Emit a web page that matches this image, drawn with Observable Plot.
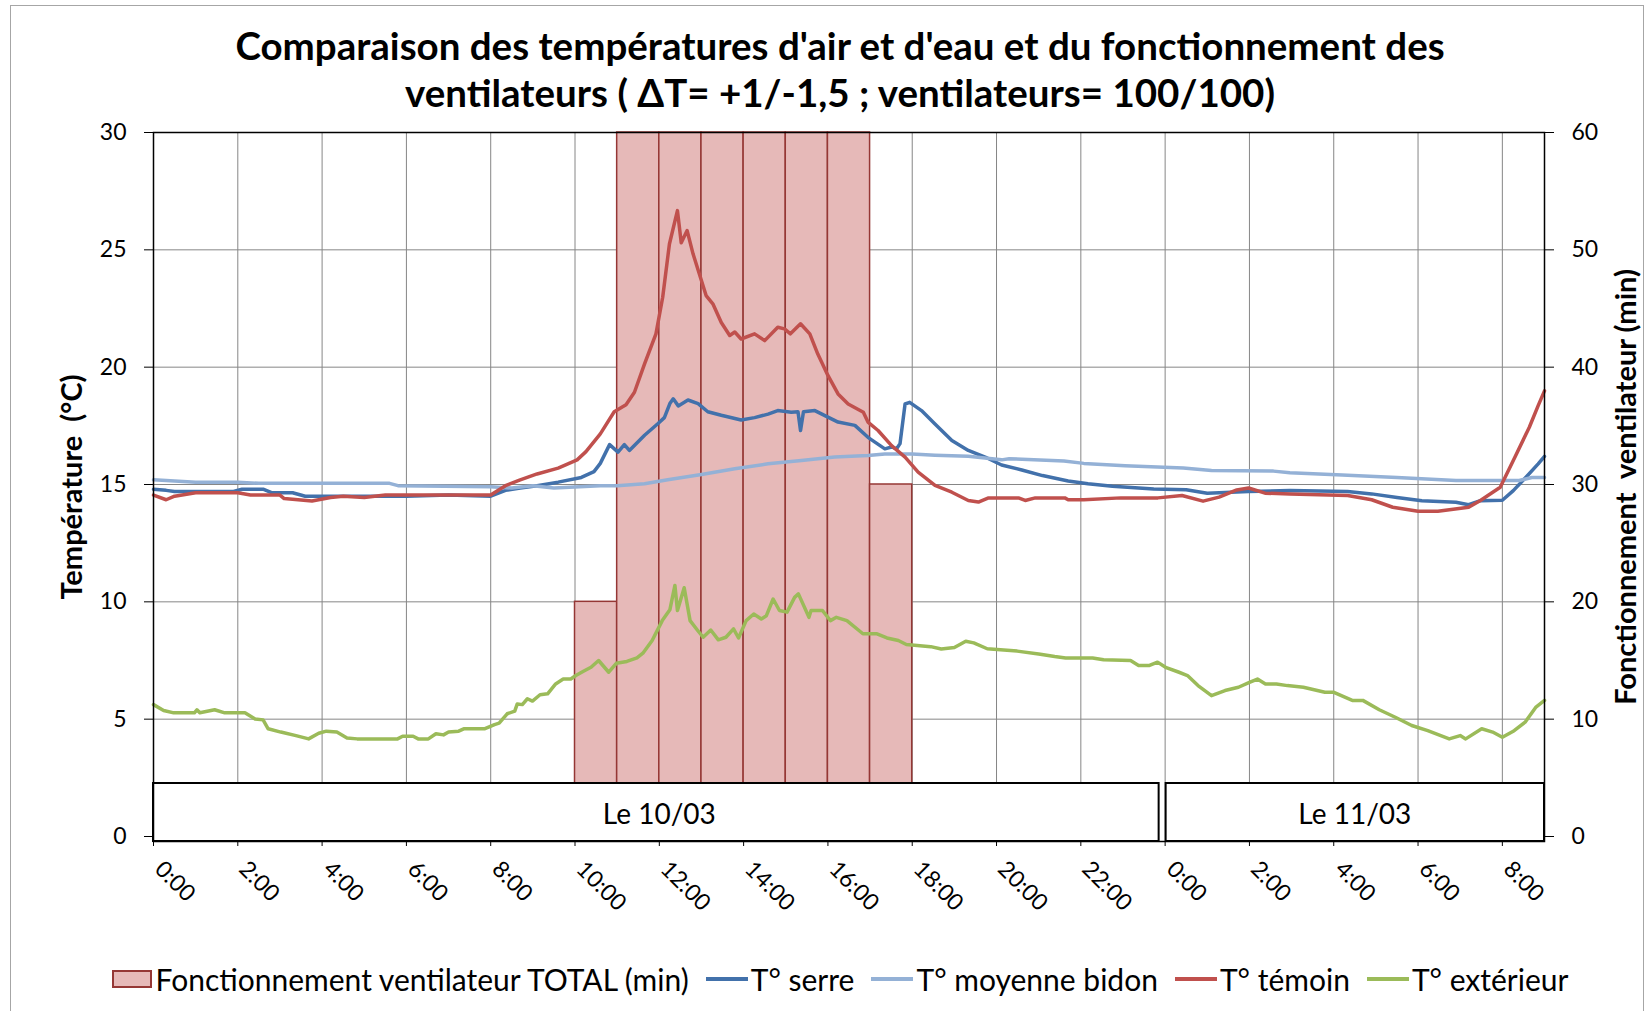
<!DOCTYPE html>
<html>
<head>
<meta charset="utf-8">
<script src="https://cdn.jsdelivr.net/npm/d3@7"></script>
<script src="https://cdn.jsdelivr.net/npm/@observablehq/plot@0.6"></script>
<style>
  body { margin: 0; background: #fff; }
  #chart { position: relative; width: 1647px; height: 1011px; overflow: hidden; background: #fff; font-family: Lato, sans-serif; color: #000; }
  #border { position: absolute; left: 10px; top: 5px; width: 1634px; height: 1030px; border: 1px solid #a6a6a6; box-sizing: border-box; }
  #title { position: absolute; left: 0; top: 22px; width: 1680px; text-align: center; font-weight: 700; font-size: 38.5px; line-height: 47px; white-space: nowrap; }
  #plot { position: absolute; left: 0; top: 120px; }
  #legend { position: absolute; left: 0; top: 961px; width: 1680px; display: flex; justify-content: center; align-items: center; font-size: 30px; gap: 17px; white-space: nowrap; }
  .item { display: flex; align-items: center; }
  .sw-rect { width: 36px; height: 14px; background: #E6B9B8; border: 2px solid #953735; margin-right: 4px; }
  .sw-line { width: 42px; height: 3.5px; margin-right: 3px; }
</style>
</head>
<body>
<div id="chart">
  <div id="border"></div>
  <div id="title">Comparaison des températures d'air et d'eau et du fonctionnement des<br>ventilateurs ( ΔT= +1/-1,5 ; ventilateurs= 100/100)</div>
  <div id="plot"></div>
  <div id="legend"></div>
</div>
<script>
// ---- Data ----
// hours since 10/03 0:00
const ventHours = [10, 11, 12, 13, 14, 15, 16, 17];
const ventMinutes = [20, 60, 60, 60, 60, 60, 60, 30];

const serre = [[0,14.8],[0.3,14.75],[0.5,14.7],[1.9,14.7],[2.1,14.8],[2.6,14.8],[2.8,14.65],[3.3,14.65],[3.6,14.5],[6.0,14.5],[7.0,14.55],[8.0,14.5],[8.35,14.75],[8.7,14.85],[9.1,14.95],[9.6,15.1],[10.15,15.3],[10.45,15.55],[10.6,15.9],[10.82,16.7],[11.02,16.38],[11.17,16.7],[11.29,16.45],[11.65,17.1],[11.97,17.6],[12.12,17.85],[12.25,18.45],[12.33,18.65],[12.45,18.35],[12.68,18.6],[12.92,18.45],[13.15,18.1],[13.47,17.95],[13.94,17.75],[14.26,17.85],[14.58,18.0],[14.81,18.15],[15.13,18.08],[15.29,18.1],[15.35,17.3],[15.42,18.1],[15.69,18.15],[16.0,17.87],[16.24,17.66],[16.64,17.52],[16.95,17.01],[17.35,16.52],[17.51,16.6],[17.63,16.52],[17.71,16.74],[17.83,18.43],[17.94,18.5],[18.22,18.15],[18.54,17.58],[18.94,16.87],[19.33,16.45],[19.73,16.17],[20.12,15.83],[20.6,15.62],[21.09,15.38],[21.7,15.15],[22.17,15.03],[22.75,14.93],[23.73,14.81],[24.5,14.78],[25.0,14.63],[25.98,14.7],[26.96,14.74],[28.33,14.7],[28.9,14.6],[29.5,14.45],[30.09,14.31],[30.9,14.24],[31.2,14.14],[31.48,14.31],[32.0,14.33],[32.26,14.74],[32.56,15.31],[32.85,15.88],[33.0,16.2]];

const bidon = [[0,15.2],[0.5,15.15],[1.0,15.1],[2.0,15.1],[2.5,15.05],[5.6,15.05],[5.8,14.95],[8.0,14.9],[8.5,14.85],[9.0,14.95],[9.5,14.85],[10.6,14.95],[11.0,14.95],[11.65,15.03],[12.2,15.2],[13.0,15.43],[13.79,15.67],[14.58,15.88],[15.37,16.02],[16.16,16.17],[16.95,16.24],[17.35,16.3],[18.0,16.3],[18.54,16.25],[19.33,16.2],[20.12,16.05],[20.3,16.1],[21.6,16.0],[22.07,15.9],[23.05,15.8],[24.43,15.7],[25.1,15.6],[26.57,15.57],[26.96,15.5],[28.2,15.4],[29.5,15.3],[30.9,15.17],[32.4,15.17],[32.7,15.3],[33.0,15.3]];

const temoin = [[0,14.55],[0.3,14.35],[0.5,14.5],[1.0,14.65],[2.0,14.65],[2.3,14.55],[3.0,14.55],[3.1,14.4],[3.76,14.3],[4.2,14.45],[4.5,14.5],[5.0,14.45],[5.5,14.55],[8.0,14.55],[8.35,14.95],[8.7,15.2],[9.1,15.45],[9.6,15.7],[10.05,16.05],[10.26,16.4],[10.6,17.16],[10.93,18.1],[11.21,18.4],[11.41,18.93],[11.65,20.14],[11.92,21.42],[12.08,22.98],[12.24,25.25],[12.43,26.67],[12.52,25.3],[12.66,25.82],[12.8,24.83],[12.95,23.97],[13.11,23.05],[13.27,22.7],[13.47,21.9],[13.67,21.35],[13.79,21.5],[13.94,21.2],[14.26,21.42],[14.5,21.13],[14.81,21.7],[14.97,21.63],[15.11,21.42],[15.35,21.85],[15.57,21.42],[15.76,20.56],[16.0,19.65],[16.24,18.86],[16.48,18.43],[16.84,18.08],[16.95,17.66],[17.19,17.3],[17.51,16.66],[17.83,16.17],[18.14,15.53],[18.54,14.96],[18.94,14.67],[19.33,14.32],[19.57,14.25],[19.81,14.43],[20.52,14.43],[20.68,14.32],[20.92,14.43],[21.62,14.43],[21.7,14.35],[22.07,14.35],[22.95,14.43],[23.83,14.43],[24.4,14.53],[24.9,14.29],[25.28,14.46],[25.7,14.77],[25.98,14.85],[26.37,14.63],[26.96,14.6],[28.33,14.53],[28.9,14.35],[29.4,14.03],[30.0,13.86],[30.47,13.86],[31.2,14.03],[31.48,14.32],[31.95,14.88],[32.3,16.17],[32.64,17.44],[32.85,18.36],[33.0,18.99]];

const exterieur = [[0,5.62],[0.24,5.37],[0.48,5.27],[0.97,5.27],[1.03,5.4],[1.1,5.27],[1.45,5.4],[1.69,5.27],[2.17,5.27],[2.41,5.01],[2.6,4.97],[2.72,4.59],[3.02,4.45],[3.38,4.3],[3.68,4.16],[3.92,4.4],[4.1,4.49],[4.35,4.45],[4.59,4.2],[4.83,4.16],[5.79,4.16],[5.91,4.27],[6.16,4.27],[6.28,4.16],[6.52,4.16],[6.7,4.38],[6.88,4.33],[7.0,4.45],[7.24,4.49],[7.36,4.59],[7.85,4.59],[8.09,4.77],[8.2,4.83],[8.39,5.23],[8.57,5.34],[8.63,5.65],[8.75,5.62],[8.87,5.87],[8.99,5.77],[9.17,6.04],[9.35,6.08],[9.54,6.5],[9.72,6.71],[9.9,6.71],[10.02,6.86],[10.2,7.04],[10.38,7.21],[10.56,7.5],[10.8,7.0],[10.98,7.38],[11.23,7.46],[11.47,7.61],[11.61,7.81],[11.83,8.35],[12.07,9.2],[12.25,9.66],[12.37,10.7],[12.43,9.63],[12.59,10.6],[12.73,9.2],[12.91,8.78],[13.04,8.49],[13.22,8.8],[13.4,8.38],[13.58,8.49],[13.76,8.85],[13.88,8.46],[14.06,9.2],[14.24,9.48],[14.42,9.27],[14.54,9.41],[14.7,10.12],[14.85,9.63],[15.03,9.56],[15.21,10.19],[15.3,10.34],[15.55,9.34],[15.6,9.63],[15.87,9.63],[16.06,9.2],[16.2,9.34],[16.45,9.2],[16.83,8.64],[17.15,8.64],[17.4,8.46],[17.67,8.35],[17.86,8.18],[18.44,8.09],[18.69,7.99],[19.0,8.05],[19.27,8.32],[19.46,8.25],[19.78,8.0],[20.17,7.95],[20.49,7.9],[21.0,7.78],[21.38,7.67],[21.64,7.61],[22.28,7.61],[22.54,7.53],[23.18,7.5],[23.37,7.29],[23.63,7.29],[23.82,7.43],[24.01,7.21],[24.33,7.0],[24.53,6.86],[24.78,6.43],[25.1,6.0],[25.42,6.22],[25.74,6.36],[26.0,6.57],[26.19,6.71],[26.38,6.5],[26.64,6.5],[26.9,6.43],[27.28,6.36],[27.79,6.15],[27.99,6.15],[28.44,5.8],[28.69,5.8],[29.08,5.4],[29.46,5.08],[29.85,4.73],[30.23,4.51],[30.74,4.16],[31.0,4.3],[31.13,4.16],[31.51,4.59],[31.77,4.45],[32.0,4.23],[32.28,4.51],[32.54,4.87],[32.79,5.5],[33.0,5.8]];

const xTicks = [0,2,4,6,8,10,12,14,16,18,20,22,24,26,28,30,32];
const xTickLabels = ["0:00","2:00","4:00","6:00","8:00","10:00","12:00","14:00","16:00","18:00","20:00","22:00","0:00","2:00","4:00","6:00","8:00"];
const yTicks = [0,5,10,15,20,25,30];
const days = [{label:"Le 10/03", start:0, end:24}, {label:"Le 11/03", start:24, end:33}];

const seriesNames = ["T° serre","T° moyenne bidon","T° témoin","T° extérieur"];
const seriesColors = ["#4271AB","#94B1D6","#C0504D","#9BBB59"];
const seriesData = [serre, bidon, temoin, exterieur];
const barName = "Fonctionnement ventilateur TOTAL (min)";
const yTitleLeft = "Température\u00a0 (°C)";
const yTitleRight = "Fonctionnement\u00a0 ventilateur (min)";

// ---- Chart ----
const bars = ventHours.map((h, i) => ({h, min: ventMinutes[i]}));
const FS = 23;

const chart = Plot.plot({
  width: 1647,
  height: 790,
  marginTop: 12,
  marginBottom: 69,
  marginLeft: 153,
  marginRight: 103,
  style: {fontFamily: "Lato, sans-serif", fontSize: FS + "px", color: "#000", background: "transparent", overflow: "visible"},
  x: {domain: [0, 33], axis: null},
  y: {domain: [0, 30], range: [716, 12], axis: null},
  marks: [
    Plot.gridY([5,10,15,20,25], {stroke: "#868686", strokeOpacity: 1, strokeWidth: 1}),
    Plot.gridX(xTicks.slice(1), {stroke: "#868686", strokeOpacity: 1, strokeWidth: 1}),
    Plot.rect(bars, {x1: "h", x2: d => d.h + 1, y1: 0, y2: d => d.min / 2, fill: "#E6B9B8", stroke: "#953735", strokeWidth: 1.5}),
    ...seriesData.map((s, i) => Plot.line(s, {x: d => d[0], y: d => d[1], stroke: seriesColors[i], strokeWidth: 3.5, strokeLinejoin: "round"})),
    Plot.rect(days.slice(0, 1), {x1: "start", x2: "end", insetTop: 651, insetRight: 6, fill: "white", stroke: "black", strokeWidth: 2}),
    Plot.rect(days.slice(1), {x1: "start", x2: "end", insetTop: 651, insetLeft: 1, fill: "white", stroke: "black", strokeWidth: 2}),
    Plot.text(days, {x: d => (d.start + d.end) / 2, text: "label", frameAnchor: "bottom", dy: -18, fontSize: 28, fill: "black"}),
    Plot.frame({stroke: "black", strokeWidth: 1.5}),
    Plot.axisY({anchor: "left", ticks: yTicks, tickSize: 9, tickPadding: 18, fontSize: FS, label: null, stroke: "black"}),
    Plot.axisY({anchor: "right", ticks: yTicks, tickFormat: d => String(d * 2), tickSize: 9, tickPadding: 18, fontSize: FS, label: null, stroke: "black"}),
    Plot.axisX({ticks: xTicks, tickSize: 5, tickFormat: () => "", label: null, stroke: "black"}),
    Plot.text(xTicks, {x: d => d, text: (d, i) => xTickLabels[i], frameAnchor: "bottom", rotate: 45, textAnchor: "start", dy: 29, fontSize: FS, fill: "black"}),
    Plot.text([yTitleLeft], {frameAnchor: "left", textAnchor: "middle", rotate: -90, dx: -81, fontSize: 29, fontWeight: "bold", fill: "black"}),
    Plot.text([yTitleRight], {frameAnchor: "right", textAnchor: "middle", rotate: -90, dx: 82, fontSize: 29, fontWeight: "bold", fill: "black"})
  ]
});
document.getElementById("plot").appendChild(chart);

// ---- Legend ----
const legend = document.getElementById("legend");
const barItem = document.createElement("span");
barItem.className = "item";
barItem.innerHTML = '<span class="sw-rect"></span>' + barName;
legend.appendChild(barItem);
seriesNames.forEach((n, i) => {
  const it = document.createElement("span");
  it.className = "item";
  it.innerHTML = '<span class="sw-line" style="background:' + seriesColors[i] + '"></span>' + n;
  legend.appendChild(it);
});
</script>
</body>
</html>
